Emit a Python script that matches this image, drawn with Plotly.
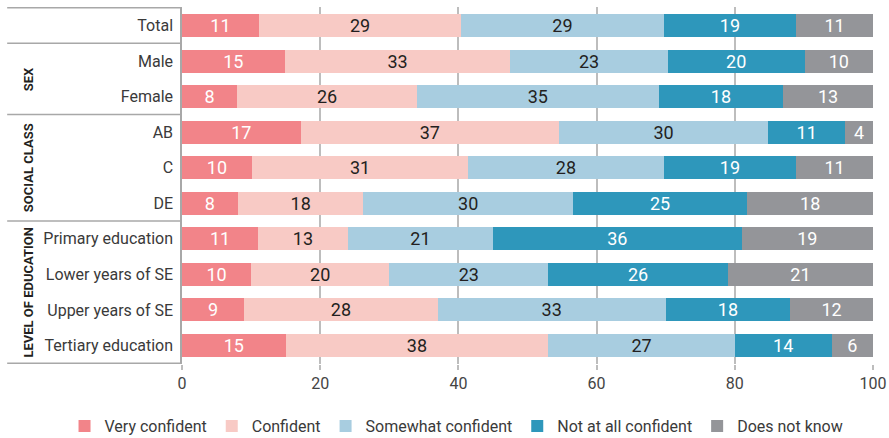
import plotly.graph_objects as go

categories = ["Total", "Male", "Female", "AB", "C", "DE",
              "Primary education", "Lower years of SE", "Upper years of SE", "Tertiary education"]
very_confident = [11, 15, 8, 17, 10, 8, 11, 10, 9, 15]
confident = [29, 33, 26, 37, 31, 18, 13, 20, 28, 38]
somewhat_confident = [29, 23, 35, 30, 28, 30, 21, 23, 33, 27]
not_at_all = [19, 20, 18, 11, 19, 25, 36, 26, 18, 14]
does_not_know = [11, 10, 13, 4, 11, 18, 19, 21, 12, 6]
series_names = ["Very confident", "Confident", "Somewhat confident", "Not at all confident", "Does not know"]
x_ticks = [0, 20, 40, 60, 80, 100]
groups = [("SEX", 1.5), ("SOCIAL CLASS", 4.0), ("LEVEL OF EDUCATION", 7.5)]
separators = [-0.5, 0.5, 2.5, 5.5, 9.5]

FONT = "Roboto, sans-serif"
colors = ["#F28489", "#F8CAC5", "#A8CDE0", "#2E97BB", "#949599"]
text_colors = ["white", "#231F20", "#231F20", "white", "white"]

fig = go.Figure()
for name, vals, c, tc in zip(series_names,
                             [very_confident, confident, somewhat_confident, not_at_all, does_not_know],
                             colors, text_colors):
    fig.add_trace(go.Bar(
        y=categories, x=vals, name=name, orientation="h",
        marker=dict(color=c, line=dict(width=0)),
        text=[str(v) for v in vals], textposition="inside", textangle=0,
        insidetextanchor="middle", constraintext="none",
        textfont=dict(color=tc, size=18, family=FONT),
        hoverinfo="skip",
    ))

line_color = "#A8A8A8"
for s in separators:
    fig.add_shape(type="line", xref="paper", yref="y", x0=-0.253, x1=0, y0=s, y1=s,
                  line=dict(color=line_color, width=1.5))
for label, pos in groups:
    fig.add_annotation(text=label, xref="paper", yref="y", x=-0.236, y=pos,
                       textangle=-90, showarrow=False,
                       font=dict(family=FONT, size=13, color="#231F20", weight="bold"))

fig.update_layout(
    width=889, height=438,
    margin=dict(l=182, r=16, t=7, b=74, autoexpand=False),
    barmode="stack", barnorm="percent", bargap=0.35,
    plot_bgcolor="white", paper_bgcolor="white",
    font=dict(family=FONT, size=16, color="#3A3A3A"),
    xaxis=dict(range=[0, 100], tickvals=x_ticks, showgrid=True, gridcolor="#BDBDBD", gridwidth=1.5,
               ticks="outside", ticklen=5, tickcolor="#BDBDBD", tickwidth=1.5, automargin=False,
               zeroline=False, showline=False, tickfont=dict(size=16, color="#444444"), fixedrange=True),
    yaxis=dict(categoryorder="array", categoryarray=categories, autorange="reversed",
               showline=True, linecolor=line_color, linewidth=1.5, ticks="", automargin=False,
               ticklabelstandoff=4, tickfont=dict(size=16, color="#3A3A3A"), showgrid=False,
               fixedrange=True),
    legend=dict(orientation="h", xref="paper", x=-0.17, xanchor="left",
                yref="paper", y=-0.174, yanchor="middle",
                itemwidth=30, font=dict(size=16, color="#3A3A3A"), traceorder="normal"),
)

fig.write_html("out.html", config={"displayModeBar": False},
               post_script="document.body.style.margin='0';")
